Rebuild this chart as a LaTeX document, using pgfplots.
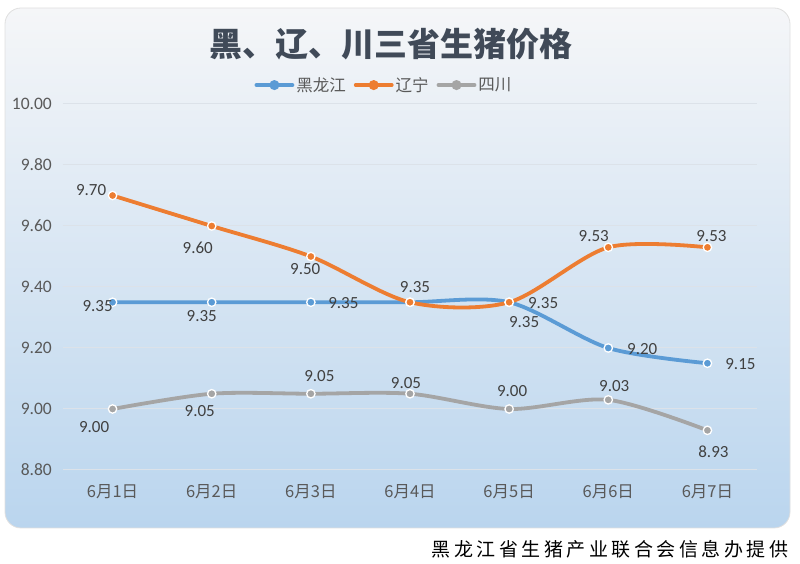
\documentclass[border=0pt]{standalone}
\usepackage{pgfplots}
\pgfplotsset{compat=1.18}
\usepackage{pgfplotstable}
\usepackage{fontspec}
\setmainfont{Carlito}
\newfontfamily\cjk{Noto Sans CJK SC}
\definecolor{cblue}{HTML}{5B9BD5}
\definecolor{corange}{HTML}{ED7D31}
\definecolor{cgray}{HTML}{A5A5A5}
\definecolor{labcol}{HTML}{595959}
\definecolor{datcol}{HTML}{404040}
\definecolor{titcol}{HTML}{404A58}
\definecolor{bgtop}{HTML}{F5F6F8}
\definecolor{bgbot}{HTML}{BAD5EE}
\definecolor{gridc}{HTML}{DCE2E9}

% columns: x, value, label offset dx, dy (pt)
\pgfplotstableread{
x y dx dy
0 9.35 -15 -4
1 9.35 -10 -13.5
2 9.35 32.5 -1
3 9.35 5 15.5
4 9.35 15 -19.5
5 9.20 34 -1
6 9.15 33 -1
}\tabhlj
\pgfplotstableread{
x y dx dy
0 9.70 -21.5 5
1 9.60 -14 -22
2 9.50 -5.6 -13
3 9.35 5 15.5
4 9.35 34 -1
5 9.53 -14.5 11.7
6 9.53 4 11.7
}\tabln
\pgfplotstableread{
x y dx dy
0 9.00 -18.5 -17.7
1 9.05 -12 -17
2 9.05 8.5 18
3 9.05 -4 10.5
4 9.00 3 18.3
5 9.03 6 14
6 8.93 6 -21.5
}\tabsc

\pgfplotsset{
  ser/.style={color=#1, line width=3.8pt, line cap=round, smooth, tension=0.5, mark=*, mark size=4.2pt,
    mark options={fill=#1, draw=white, line width=1.3pt}},
  lbl/.style={forget plot, draw=none, mark=none,
    point meta=y,
    nodes near coords={\pgfmathprintnumber[fixed,fixed zerofill,precision=2,assume math mode=true]{\pgfplotspointmeta}},
    visualization depends on={\thisrow{dx} \as \ldx},
    visualization depends on={\thisrow{dy} \as \ldy},
    every node near coord/.append style={anchor=center, xshift=\ldx pt, yshift=\ldy pt,
      font=\fontsize{17}{20}\selectfont, text=datcol, inner sep=0pt}},
}

\newcommand\fc[1]{\makebox[22.5pt]{#1}}

\begin{document}
\begin{tikzpicture}[x=1pt,y=1pt]
\path[use as bounding box] (0,0) rectangle (800,564);
\shadedraw[top color=bgtop, bottom color=bgbot, draw=gray!25, line width=0.8pt, rounded corners=16pt] (5,36) rectangle (790,556);
\node[font=\cjk\bfseries\fontsize{33}{36}\selectfont, text=titcol] at (391,520) {黑、辽、川三省生猪价格};
\node[font=\cjk\fontsize{19}{21}\selectfont, anchor=east, inner sep=0pt, text=black] at (790,15)
  {\fc{黑}\fc{龙}\fc{江}\fc{省}\fc{生}\fc{猪}\fc{产}\fc{业}\fc{联}\fc{合}\fc{会}\fc{信}\fc{息}\fc{办}\fc{提}\fc{供}};
\begin{axis}[
  at={(63pt,94pt)}, anchor=south west,
  width=694pt, height=366pt, scale only axis,
  xmin=-0.5, xmax=6.5, ymin=8.8, ymax=10,
  xtick={0,1,2,3,4,5,6},
  xticklabels={6月1日,6月2日,6月3日,6月4日,6月5日,6月6日,6月7日},
  ytick={8.8,9,9.2,9.4,9.6,9.8,10},
  scaled y ticks=false,
  axis line style={draw=none},
  major tick length=0pt,
  tick style={draw=none},
  ymajorgrids, grid style={draw=gridc, line width=1pt},
  yticklabel style={/pgf/number format/fixed, /pgf/number format/fixed zerofill,
    /pgf/number format/precision=2, /pgf/number format/assume math mode=true,
    font=\fontsize{17.5}{20}\selectfont, text=labcol, anchor=east, inner sep=0pt, xshift=-11pt},
  xticklabel style={font=\cjk\fontsize{16.5}{19}\selectfont, text=labcol, anchor=center, yshift=-22pt},
  clip=false,
  legend columns=3,
  legend style={at={(0.4625,1)}, anchor=south, yshift=9pt, draw=none, fill=none,
    font=\cjk\fontsize{16.5}{18}\selectfont, text=labcol, inner sep=0pt,
    nodes={inner sep=2pt},
    /tikz/every even column/.append style={column sep=6pt}},
  legend image code/.code={
    \draw[#1, mark=none, line width=3.8pt, line cap=round] (2pt,0pt) -- (38pt,0pt);
    \draw[#1, mark size=3pt, mark options={draw=none}] plot coordinates {(20pt,0pt)};
  },
]
\addplot[ser=cblue] table[x=x,y=y]{\tabhlj};
\addlegendentry{黑龙江}
\addplot[ser=corange] table[x=x,y=y]{\tabln};
\addlegendentry{辽宁}
\addplot[ser=cgray] table[x=x,y=y]{\tabsc};
\addlegendentry{四川}
\addplot[lbl, skip coords between index={3}{4}] table[x=x,y=y]{\tabhlj};
\addplot[lbl] table[x=x,y=y]{\tabln};
\addplot[lbl] table[x=x,y=y]{\tabsc};
\end{axis}
\end{tikzpicture}
\end{document}
